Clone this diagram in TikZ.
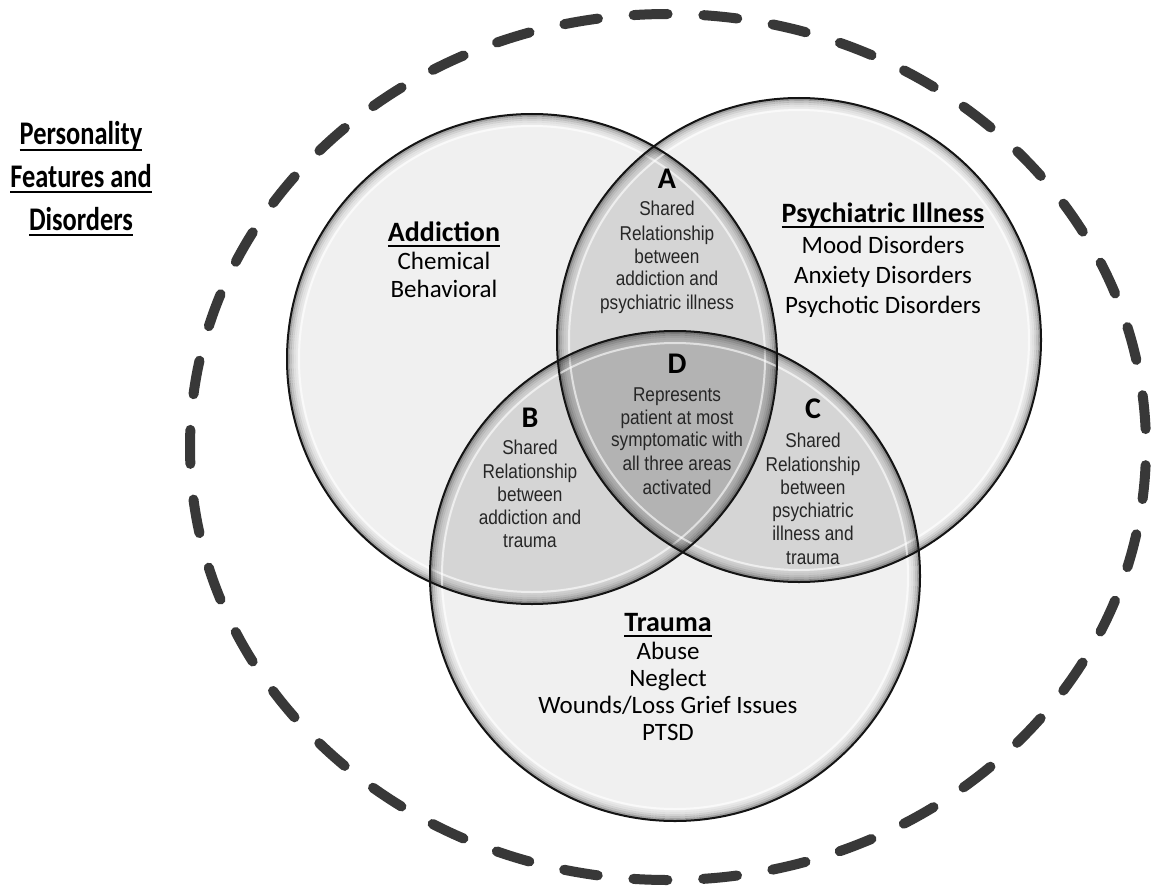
\documentclass[tikz,border=0pt]{standalone}
\usepackage{fontspec}
\setmainfont{Carlito}
\newfontfamily\descfont[FakeStretch=0.86]{Liberation Sans}
\newfontfamily\persfont[FakeStretch=0.80]{Carlito}
\newcommand\ulx[1]{\setbox0=\hbox{#1}\rlap{\rule[-6pt]{\wd0}{2pt}}\box0}
\newcommand\glassrim[2]{%
  \foreach \d/\c in {1.5/32, 3.5/20, 5.5/12, 7.5/6, 9.5/3}{%
    \draw[line width=2.1pt, draw=black!\c, blend mode=multiply] (#1) circle[radius={#2pt-\d pt}];}%
  \draw[line width=2pt, draw=white, opacity=0.6] (#1) circle[radius={#2pt-12pt}];}
\begin{document}
\begin{tikzpicture}[x=1pt,y=-1pt,
  ttl/.style={font=\bfseries\fontsize{28}{30}\selectfont, anchor=base, inner sep=0pt},
  itm/.style={font=\fontsize{25}{28}\selectfont, anchor=base, inner sep=0pt},
  ltr/.style={font=\bfseries\fontsize{30}{32}\selectfont, anchor=base, inner sep=0pt},
  dsc/.style={font=\descfont\fontsize{20}{22}\selectfont, anchor=base, inner sep=0pt, text=black!85},
  pers/.style={font=\persfont\bfseries\fontsize{33}{36}\selectfont, anchor=base, inner sep=0pt},
  outline/.style={line width=2pt, draw=black!92},
  basefill/.style={fill=black!6, blend mode=multiply},
  overfill/.style={fill=black!5, blend mode=multiply},
  dashring/.style={line width=10pt, draw=black!78, line cap=round, dash pattern=on 34pt off 35.85pt, dash phase=51.9pt}]
\fill[white] (0,0) rectangle (1151,888);
\useasboundingbox (0,0) rectangle (1151,888);

\coordinate (ctr) at (668,447);
\coordinate (add) at (532,359);
\coordinate (psy) at (799,340);
\coordinate (tra) at (675,576);

% outer dashed ellipse
\draw[dashring] (ctr) ellipse (478pt and 433pt);

% circle bodies
\fill[basefill] (add) circle (245pt);
\fill[basefill] (psy) circle (242pt);
\fill[basefill] (tra) circle (245pt);

% darken overlaps
\begin{scope}
  \clip (add) circle (245pt);
  \fill[overfill] (psy) circle (242pt);
\end{scope}
\begin{scope}
  \clip (add) circle (245pt);
  \fill[overfill] (tra) circle (245pt);
\end{scope}
\begin{scope}
  \clip (psy) circle (242pt);
  \fill[overfill] (tra) circle (245pt);
\end{scope}

% glassy rims
\glassrim{add}{245}
\glassrim{psy}{242}
\glassrim{tra}{245}

% outlines
\draw[outline] (add) circle (245pt);
\draw[outline] (psy) circle (242pt);
\draw[outline] (tra) circle (245pt);

% left label
\node[pers] (p1) at (81,145) {\ulx{Personality}};
\node[pers] (p2) at (81,187) {\ulx{Features and}};
\node[pers] (p3) at (81,230) {\ulx{Disorders}};

% Addiction
\node[ttl] (at) at (444,241) {\ulx{Addiction}};
\node[itm] (a1) at (444,269) {Chemical};
\node[itm] (a2) at (444,297) {Behavioral};

% Psychiatric illness
\node[ttl] (pt) at (883,222) {\ulx{Psychiatric Illness}};
\node[itm] (pi1) at (883,253) {Mood Disorders};
\node[itm] (pi2) at (883,283) {Anxiety Disorders};
\node[itm] (pi3) at (883,313) {Psychotic Disorders};

% Trauma
\node[ttl] (tt) at (668,631) {\ulx{Trauma}};
\node[itm] (t1) at (668,659) {Abuse};
\node[itm] (t2) at (668,686) {Neglect};
\node[itm] (t3) at (668,713) {Wounds/Loss Grief Issues};
\node[itm] (t4) at (668,740) {PTSD};

% A
\node[ltr] (la) at (667,188) {A};
\node[dsc] (la1) at (667,215) {Shared};
\node[dsc] (la2) at (667,240) {Relationship};
\node[dsc] (la3) at (667,263) {between};
\node[dsc] (la4) at (667,285) {addiction and};
\node[dsc] (la5) at (667,309) {psychiatric illness};

% D
\node[ltr] (ld) at (677,373) {D};
\node[dsc] (ld1) at (677,401) {Represents};
\node[dsc] (ld2) at (677,424) {patient at most};
\node[dsc] (ld3) at (677,446) {symptomatic with};
\node[dsc] (ld4) at (677,470) {all three areas};
\node[dsc] (ld5) at (677,494) {activated};

% B
\node[ltr] (lb) at (530,427) {B};
\node[dsc] (lb1) at (530,454) {Shared};
\node[dsc] (lb2) at (530,478) {Relationship};
\node[dsc] (lb3) at (530,501) {between};
\node[dsc] (lb4) at (530,524) {addiction and};
\node[dsc] (lb5) at (530,547) {trauma};

% C
\node[ltr] (lc) at (813,418) {C};
\node[dsc] (lc1) at (813,447) {Shared};
\node[dsc] (lc2) at (813,471) {Relationship};
\node[dsc] (lc3) at (813,494) {between};
\node[dsc] (lc4) at (813,517) {psychiatric};
\node[dsc] (lc5) at (813,540) {illness and};
\node[dsc] (lc6) at (813,564) {trauma};
\end{tikzpicture}
\end{document}
